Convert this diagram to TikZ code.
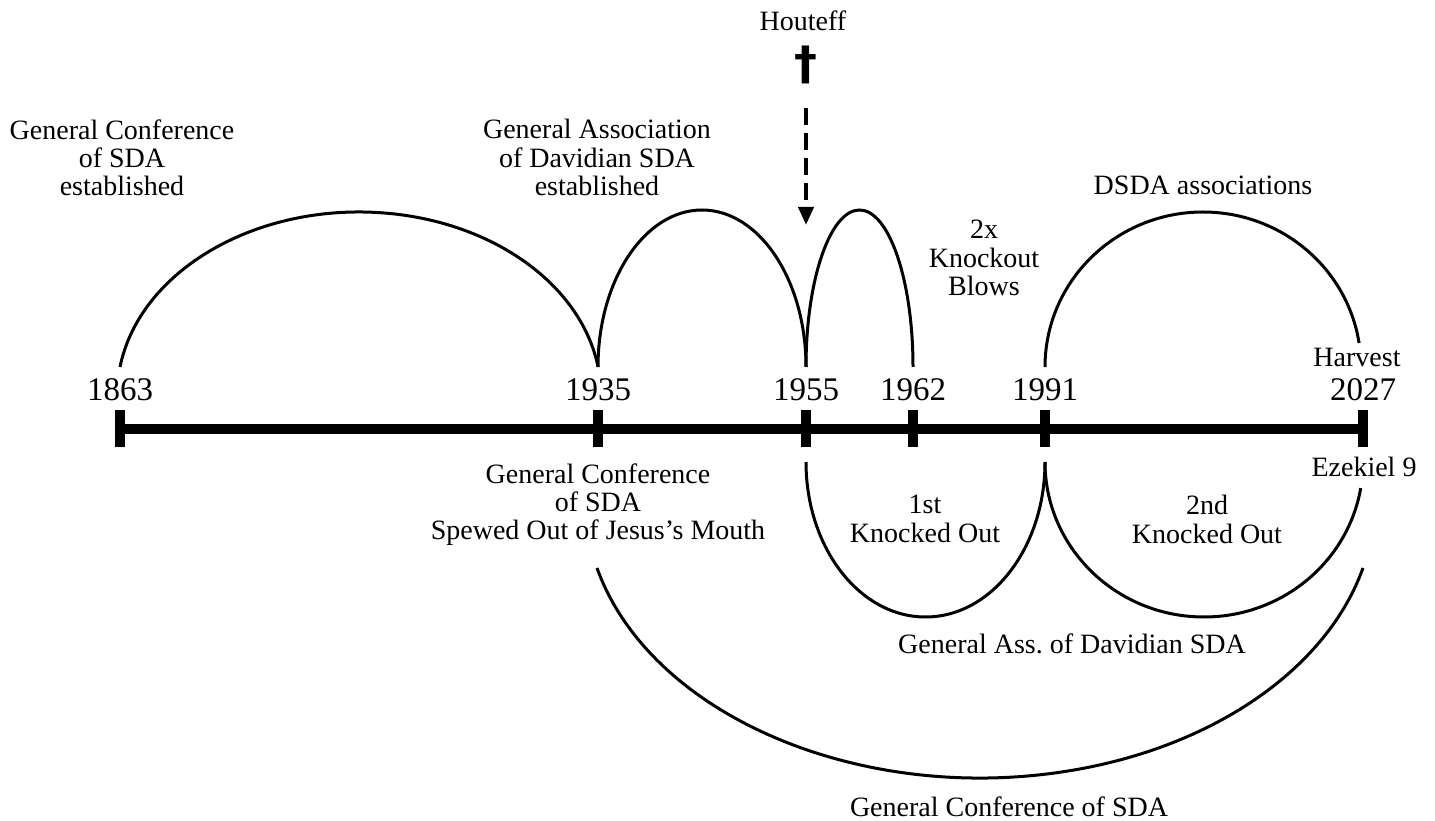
\documentclass[tikz,border=0pt]{standalone}
\usepackage{fontspec}
\setmainfont{Liberation Serif}
\newfontfamily\crossfont{DejaVu Sans}
\usetikzlibrary{arrows.meta}
\frenchspacing

\begin{document}
\begin{tikzpicture}[x=0.5pt, y=0.5pt, line cap=butt, font=\fontsize{14}{14.2}\selectfont]
\tikzstyle{every node} = [inner sep=0pt, align=center]
\tikzstyle{note} = [anchor=north]
\tikzstyle{year} = [anchor=base, font=\fontsize{16.5}{18}\selectfont]
\tikzstyle{arcline} = [line width=1.5pt]
\tikzstyle{bar} = [line width=5pt]
\useasboundingbox (0,0) rectangle (1435,820);

% timeline with year marks
\foreach \yr/\x in {1863/120, 1935/598, 1955/806, 1962/913, 1991/1045, 2027/1363}
{
  \coordinate (y\yr) at (\x,391);
  \draw [bar] (y\yr) ++(0,-18.5) -- ++(0,37);
  \node (n\yr) at (\x,419) [year] {\yr};
}
\draw [bar] (y1863) -- (y2027);

% arcs above the line
\draw [arcline] (y1863) ++(0,62) arc [start angle=171.2, end angle=8.8, x radius=120.95pt, y radius=91.5pt];
\draw [arcline] (y1935) ++(0,62) arc [start angle=180, end angle=0, x radius=52pt, y radius=78.5pt];
\draw [arcline] (y1955) ++(0,62) arc [start angle=180, end angle=0, x radius=26.75pt, y radius=78.5pt];
\draw [arcline] (y1991) ++(0,62) arc [start angle=180, end angle=8.9, x radius=79pt, y radius=77.5pt];

% arcs below the line
\draw [arcline] (y1955) ++(0,-33) arc [start angle=180, end angle=360, x radius=59.75pt, y radius=77.5pt];
\draw [arcline] (y1991) ++(0,-33) arc [start angle=180, end angle=350.3, x radius=79.5pt, y radius=77.5pt];
\draw [arcline] (y1935) ++(-1,-139) arc [start angle=194.16, end angle=345.84, x radius=197.5pt, y radius=139pt];

% Houteff
\node (houteff) at (803,789) [anchor=base] {Houteff};
\node (cross) at (806,755.5) [font=\fontsize{23}{23}\crossfont\bfseries] {†};
\coordinate (dtop) at (806,712);
\coordinate (dtip) at (806,595);
\draw [line width=2pt, dash pattern=on 8.5pt off 4pt, -{Triangle[length=9pt, width=7.5pt]}] (dtop) -- (dtip);

% texts
\node (gcest) at (122,701) [note] {General Conference\\of SDA\\established};
\node (gadest) at (597,701) [note] {General Association\\of Davidian SDA\\established};
\node (blows) at (984,600) [note] {2x\\Knockout\\Blows};
\node (dsda) at (1203,625) [anchor=base] {DSDA associations};
\node (harvest) at (1357,453) [anchor=base] {Harvest};
\node (ezek) at (1364,343) [anchor=base] {Ezekiel 9};
\node (spewed) at (598,357) [note] {General Conference\\of SDA\\Spewed Out of Jesus’s Mouth};
\node (first) at (925,325) [note] {1st\\Knocked Out};
\node (second) at (1207,325) [note] {2nd\\Knocked Out};
\node (gads) at (1072,167) [anchor=base] {General Ass. of Davidian SDA};
\node (gcsda) at (1009,4) [anchor=base] {General Conference of SDA};
\end{tikzpicture}
\end{document}
